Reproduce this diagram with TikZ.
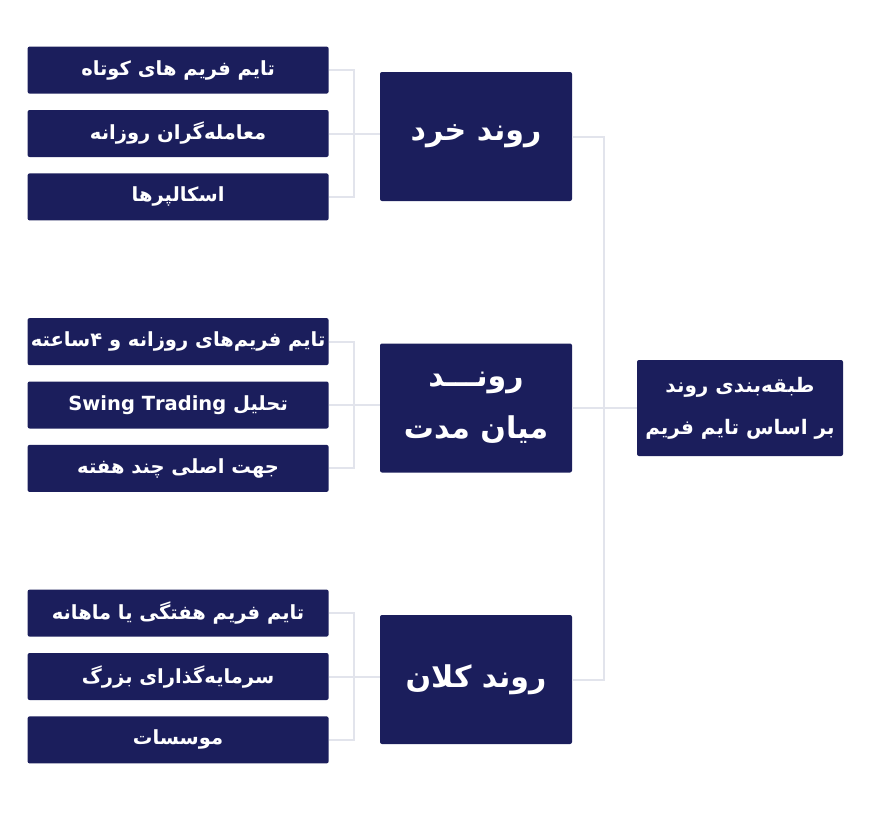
\documentclass[tikz,border=0pt]{standalone}
\usepackage{fontspec}
\TeXXeTstate=1
\newfontfamily\farsi[Script=Arabic]{DejaVu Sans}
\usetikzlibrary{positioning}
\definecolor{navy}{RGB}{27,30,92}
\definecolor{linkgray}{RGB}{226,228,236}

\begin{document}
\begin{tikzpicture}[x=1pt,y=-1pt,
					node distance=16pt,
					box/.style={fill=navy,text=white,rounded corners=2pt,inner sep=0pt},
					leaf/.style={box,minimum width=301pt,minimum height=47pt,
					             font=\farsi\bfseries\fontsize{19.5}{22}\selectfont},
					trend/.style={box,minimum width=192pt,minimum height=129pt,align=center,
					              font=\farsi\bfseries\fontsize{30}{52}\selectfont},
					root/.style={box,minimum width=206pt,minimum height=96pt,align=center,
					             font=\farsi\bfseries\fontsize{20}{42}\selectfont},
					link/.style={draw=linkgray,line width=2pt}]

  \useasboundingbox (0,0) rectangle (870,812);

  % root and trend boxes
  \node[root] (R) at (740,408) {\beginR طبقه‌بندی روند\endR\\\beginR بر اساس تایم فریم\endR};
  \node[trend] (m1) at (476,136.5) {\beginR روند خرد\endR};
  \node[trend] (m2) at (476,408) {\beginR رونـــد\endR\\\beginR میان مدت\endR};
  \node[trend] (m3) at (476,679.5) {\beginR روند کلان\endR};

  % short term
  \node[leaf] (l12) [left=51pt of m1,yshift=3pt] {\beginR معامله‌گران روزانه\endR};
  \node[leaf] (l11) [above=of l12] {\beginR تایم فریم های کوتاه\endR};
  \node[leaf] (l13) [below=of l12] {\beginR اسکالپرها\endR};

  % mid term
  \node[leaf] (l22) [left=51pt of m2,yshift=3pt] {\beginR تحلیل \beginL Swing Trading\endL\endR};
  \node[leaf] (l21) [above=of l22] {\beginR تایم فریم‌های روزانه و ۴ساعته\endR};
  \node[leaf] (l23) [below=of l22] {\beginR جهت اصلی چند هفته\endR};

  % long term
  \node[leaf] (l32) [left=51pt of m3,yshift=3pt] {\beginR سرمایه‌گذارای بزرگ\endR};
  \node[leaf] (l31) [above=of l32] {\beginR تایم فریم هفتگی یا ماهانه\endR};
  \node[leaf] (l33) [below=of l32] {\beginR موسسات\endR};

  \coordinate[right=32pt of m1] (hub);

  \foreach \g in {1,2,3} {
    \coordinate[right=25pt of l\g2] (j\g);
    \draw[link] (l\g1.east) -| (j\g) |- (l\g3.east);
    \draw[link] (l\g2.east) -- (l\g2.east -| m\g.west);
  }
  \draw[link] (m1.east) -| (hub) |- (m3.east);
  \draw[link] (m2.east) -- (R.west);
\end{tikzpicture}
\end{document}
